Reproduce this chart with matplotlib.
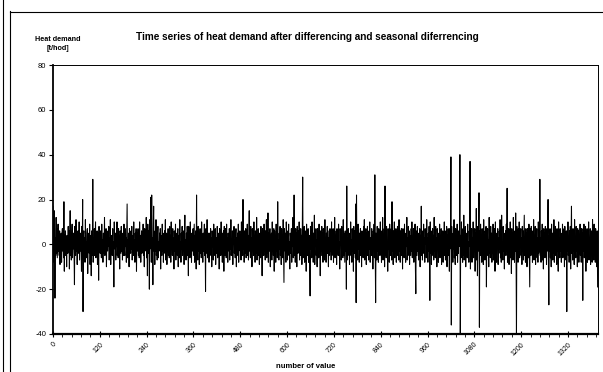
import numpy as np
import matplotlib
matplotlib.use("Agg")
import matplotlib.pyplot as plt
from matplotlib.lines import Line2D
from matplotlib.ticker import MultipleLocator

plt.rcParams['font.family'] = ['Liberation Sans', 'DejaVu Sans']

seg0 = [17, 10, -8, 15, 6, -24, 3, -5, 12, -4, 7, -6, 2, 9, -3, 1, -5, 6, -9, 4,
        -2, 5, -8, 3, 7, -3, 2, -6, 19, -12, 4, -1, 6, -5, 3, -10, 4, 0, -4, 8,
        -3, 6, -11, 2, 15, -5, 1, -7, 4, 9, -6, 3, -2, 5, -4, -18, 8, 1, -5, 11,
        -3, 4, -9, 3, 6, -1, -4, 10, -7, 2, 5, -3, 0, -12, 8, -2, 20, -30, 4, 6,
        -5, 3, -8, 11, -3, 1, -6, 5, 7, -13, 3, 0, 5, -4, 9, -9, 2, 4, -14, 6]
seg1 = [3, -5, 29, -8, 3, -2, 7, -5, 1, 10, -6, 4, -3, 6, -9, 2, 5, -16, 8, -1,
        3, -4, 6, -2, -6, 9, -3, 2, -8, 5, 1, -4, 12, -5, 2, -3, 7, -10, 4, 0,
        -3, 6, -1, 8, -7, 3, -4, 11, -9, 4, 0, 3, -5, 7, -3, 1, -19, 10, -2, 4,
        5, -7, 3, -1, 10, -5, 2, -6, 7, -3, 4, -11, 6, 1, -4, 8, -3, 5, -7, 2,
        3, -5, 9, -2, -5, 7, -1, 3, -8, 4, 18, -6, 2, -3, 5, -10, 7, 0, 3, -4]
seg2 = [6, -2, 8, -7, 1, 4, -5, 10, -3, 2, -8, 5, -1, 7, -12, 5, 0, -3, 7, -5,
        3, -6, 10, -2, 4, -8, 1, 6, -4, 3, 0, 9, -5, 2, -10, 7, -3, 5, -1, 12,
        -6, 3, -14, 9, 2, -4, 6, -20, 11, -2, 4, 21, -8, 22, -6, 3, -18, 7, 17, -3,
        1, -9, 6, -3, 11, -5, 2, -7, 4, 8, -6, 1, -3, 5, -2, 7, -11, 4, 1, -5,
        9, -3, 5, -8, 2, -1, 6, -4, 11, -7, 3, 5, -9, 3, 0, 7, -5, 2, -6, 8]
seg3 = [-3, 4, -8, 10, -2, 1, -5, 7, -4, 3, -11, 6, 0, -3, 9, -7, 3, -1, 5, -5,
        7, -10, 4, 2, -6, 11, -3, 1, -8, 5, -2, 8, -5, 3, 0, 6, -9, 4, 13, -4,
        2, -7, 5, -3, 8, -5, 1, -14, 8, -1, 3, -6, 10, -4, 2, -8, 5, 0, -3, 7,
        -5, 3, 9, -8, 4, -2, 6, -11, 22, -5, 1, -7, 8, -3, 5, -9, 3, 7, -4, 2,
        -6, 10, -1, 4, -8, 5, -3, 2, 9, -5, 3, -21, 7, 1, -4, 11, -6, 3, -2, 5]
seg4 = [-8, 5, 0, -3, 7, -5, 3, -10, 6, -1, 4, -7, 9, -3, 2, -5, 7, -9, 3, 1,
        -4, 8, -6, 3, 0, 5, -11, 7, -2, 4, -5, 10, -3, 1, -8, 5, -3, 6, -12, 8,
        2, -5, 7, -1, -6, 9, -4, 3, -8, 5, 0, -3, 7, -7, 4, -2, 11, -5, 1, -3,
        6, -9, 5, 0, 8, -4, 2, -6, 3, 7, -10, 3, -1, 5, -5, 9, -8, 4, -2, 6,
        -3, 1, -7, 10, -3, 5, -5, 20, -2, 3, -8, 6, 0, -4, 7, -6, 3, -1, 9, -5]
seg5 = [4, -7, 5, 15, -3, 2, -6, 8, -4, 3, -10, 7, -1, 5, -5, 10, -3, 2, -8, 6,
        0, -4, 12, -7, 3, -2, 7, -5, 1, -9, 5, 3, -6, 8, -3, 4, -14, 7, 0, 3,
        -5, 9, -3, 2, -7, 6, -1, 11, -6, 3, -4, 14, -8, 5, 0, -3, 7, -10, 4, -2,
        5, -7, 10, -3, 1, -5, 7, -12, 6, 0, 3, -8, 9, -3, 4, -6, 19, -4, 2, -7,
        5, -2, 8, -5, 3, -9, 7, -1, 4, -6, 11, -4, -17, 7, 2, -3, 5, -8, 10, -3]
seg6 = [3, -7, 6, -2, 9, -5, 1, -11, 5, 3, -4, 7, -8, 4, -1, 12, -6, 2, 22, -5,
        3, -8, 7, -3, 5, -10, 8, 0, -4, 6, -2, 10, -7, 3, -5, 7, -1, 4, -9, 5,
        30, -6, 3, -4, 8, -8, 5, -1, 6, -12, 9, -3, 3, -5, 7, -8, 2, 4, -7, -23,
        8, -2, 5, -6, 10, -3, 1, -8, 5, -3, 13, -9, 4, 0, 7, -5, 2, -10, 7, -1,
        3, -6, 9, -4, 3, -14, 6, 1, -5, 8, -3, 5, -8, 7, -2, 4, -7, 11, -5, 2]
seg7 = [-8, 5, -1, 8, -4, 3, -10, 6, 0, -5, 7, -3, 4, -7, 10, -5, 2, -3, 7, -8,
        5, -2, 12, -6, 3, -1, 6, -9, 7, -4, 3, -5, 9, -3, 1, -11, 7, 0, 4, -7,
        8, -3, 2, -6, 11, -5, 5, -2, -8, 6, -3, 4, -20, 26, -7, 3, -5, 7, -1, 3,
        -9, 5, -3, 10, -5, 2, -8, 7, -3, 5, -12, 8, 1, -4, 6, -6, 18, -26, 22, -5,
        3, -7, 9, -2, 4, -8, 5, 0, 7, -5, 3, -10, 6, -3, 2, -6, 8, -4, 11, -7]
seg8 = [3, -1, 7, -9, 5, -3, 8, -5, 2, -7, 6, -2, 10, -8, 3, 0, -5, 7, -3, 4,
        -11, 6, -1, 9, -6, 31, -4, -26, 5, 2, -7, 8, -3, 5, -8, 7, 0, 3, -5, 10,
        -4, 2, -8, 6, -3, 12, -7, 4, -1, 7, -10, 26, -5, 3, -6, 8, -3, 1, -12, 7,
        -2, 5, -8, 9, -4, 3, -5, 7, -7, 19, -3, 4, -9, 6, -1, 10, -6, 3, -4, 7,
        -8, 5, -2, 8, -5, 1, -7, 11, -3, 4, -8, 6, 0, 7, -5, 3, -11, 7, -3, 5]
seg9 = [-6, 9, -4, 2, -8, 5, -1, 12, -7, 3, -5, 8, -3, 6, -9, 4, 0, -5, 7, -3,
        10, -6, 3, -4, 7, -8, 5, -2, 9, -11, -22, 6, 1, -5, 8, -3, 5, -7, 3, -1,
        7, -10, 4, -3, 17, -5, 2, -7, 6, -4, 9, -2, 3, -8, 7, 0, 5, -6, 11, -5,
        3, -8, 5, -3, 8, -1, -25, 10, -4, 6, -9, 3, -2, 7, -5, 4, -7, 12, -3, 2,
        -6, 8, -5, 3, -10, 7, -1, 5, -8, 4, -3, 9, -6, 2, -4, 7, -9, 5, 0, 6]
seg10 = [-8, 5, -3, 10, -5, 2, -7, 6, -3, 8, -10, 4, -1, 7, -5, 3, -12, 7, -2, 5,
         39, -36, 8, -4, 3, -8, 5, -2, 11, -6, 1, -9, 7, -3, 5, -5, 9, -8, 3, -4,
         6, -1, 7, 40, -40, 4, -6, 10, -3, 2, -8, 7, -5, 13, -7, 3, -2, 8, -10, 5,
         -3, 4, -6, 9, -4, 1, -8, 6, -1, 37, -11, 5, -3, 7, -8, 3, -5, 10, -6, 3,
         -2, 7, -12, 5, -4, 16, -7, 3, -14, 8, -3, 5, 23, -37, 6, -5, 9, -3, 2, -8]
seg11 = [7, -5, 3, -9, 11, -3, 4, -7, 6, -1, 8, -19, 5, -3, 7, -5, 2, -10, 12, -4,
         3, -6, 8, -2, 5, -8, 3, -4, 9, -7, 1, -5, 7, -12, 10, -3, 4, -8, 5, -1,
         7, -9, 3, -4, 6, -2, 11, -6, 3, -8, 13, -5, 1, -7, 8, -3, 5, -11, 4, 0,
         6, -5, 9, -3, 25, -8, 2, -4, 7, -9, 5, -1, 10, -6, 3, -13, 7, -3, 5, -7,
         12, -4, 2, -8, 6, -3, 14, -5, -40, 8, -2, 5, -8, 7, -4, 10, -6, 3, -1, 7]
seg12 = [-5, 3, -9, 8, -3, 6, -7, 4, 13, -5, 2, -8, 7, -3, 5, -10, 7, -1, 4, -6,
         9, -4, -19, 7, 3, -5, 8, -2, 5, -8, 6, -3, 11, -7, 2, -5, 8, -9, 4, -1,
         7, -6, 3, -8, 10, -4, 5, -3, 29, -5, 3, -8, 6, -2, 9, -7, 4, -11, 7, -3,
         5, -6, 8, -4, 2, -9, 7, -3, 5, 20, -8, -27, 4, -3, 7, -6, 3, -10, 9, -2,
         5, -7, 3, -4, 11, -8, 5, -1, 8, -5, 2, -9, 7, -3, 6, -12, 10, -5, 3, -6]
seg13 = [7, -3, 5, -8, 4, -2, 9, -6, 3, -5, 7, -10, 8, -3, 2, -7, 6, -30, 5, -3,
         10, -5, 3, -8, 6, -1, 8, -11, 5, 17, -4, 3, -7, 7, -3, 5, -9, 11, -5, 2,
         -6, 8, -3, 4, -10, 7, -1, 6, -8, 3, -4, 9, -5, 3, -8, 7, -2, 5, -25, 7,
         -3, 9, -6, 3, -5, 8, -12, 5, -1, 7, -8, 4, -3, 10, -7, 3, -5, 7, -9, 5,
         -2, 6, -8, 11, -4, 3, -7, 9, -5, 1, -8, 7, -3, 5, -10, 6, -19]

segments = [seg0, seg1, seg2, seg3, seg4, seg5, seg6, seg7, seg8, seg9, seg10, seg11, seg12, seg13]
heat = np.concatenate([np.array(s, dtype=float) for s in segments])
idx = np.arange(len(heat))

x_major = np.arange(0, 1321, 120)
y_ticks = [-40, -20, 0, 20, 40, 60, 80]

W, H = 603, 372
fig = plt.figure(figsize=(W / 100, H / 100), dpi=100)

# outer frame lines
fig.add_artist(Line2D([3.5 / W, 3.5 / W], [0, 1], color='black', lw=0.8))
fig.add_artist(Line2D([9.5 / W, 9.5 / W], [0, 1 - 11 / H], color='black', lw=0.8))
fig.add_artist(Line2D([9.5 / W, 1], [1 - 11.5 / H, 1 - 11.5 / H], color='black', lw=0.8))

ax = fig.add_axes([53 / W, 1 - 334 / H, (598 - 53) / W, (334 - 65) / H])
ax.plot(idx, heat, color='black', lw=0.75)

ax.set_xlim(0, 1397)
ax.set_ylim(-40, 80)
ax.set_xticks(x_major)
ax.set_xticklabels([str(v) for v in x_major], rotation=45, ha='right', va='top',
                   rotation_mode='anchor', fontsize=5)
ax.xaxis.set_minor_locator(MultipleLocator(24))
ax.set_yticks(y_ticks)
ax.set_yticklabels([str(v) for v in y_ticks], fontsize=5.5)

ax.tick_params(axis='x', which='major', direction='inout', length=4, width=0.8, pad=3)
ax.tick_params(axis='x', which='minor', direction='out', length=2, width=0.6)
ax.tick_params(axis='y', which='major', direction='out', length=3, width=0.8, pad=2)

ax.spines['bottom'].set_linewidth(1.6)
ax.spines['left'].set_linewidth(1.3)
for s in ['top', 'right']:
    ax.spines[s].set_linewidth(0.7)

fig.text(307 / W, 1 - 37 / H, 'Time series of heat demand after differencing and seasonal diferrencing',
         ha='center', va='center', fontsize=7.2, fontweight='bold')
fig.text(58 / W, 1 - 44 / H, 'Heat demand\n[t/hod]', ha='center', va='center',
         fontsize=5.2, fontweight='bold', linespacing=1.5)
fig.text(306 / W, 1 - 366 / H, 'number of value', ha='center', va='center',
         fontsize=5.5, fontweight='bold')

fig.savefig('out.png', dpi=100)
